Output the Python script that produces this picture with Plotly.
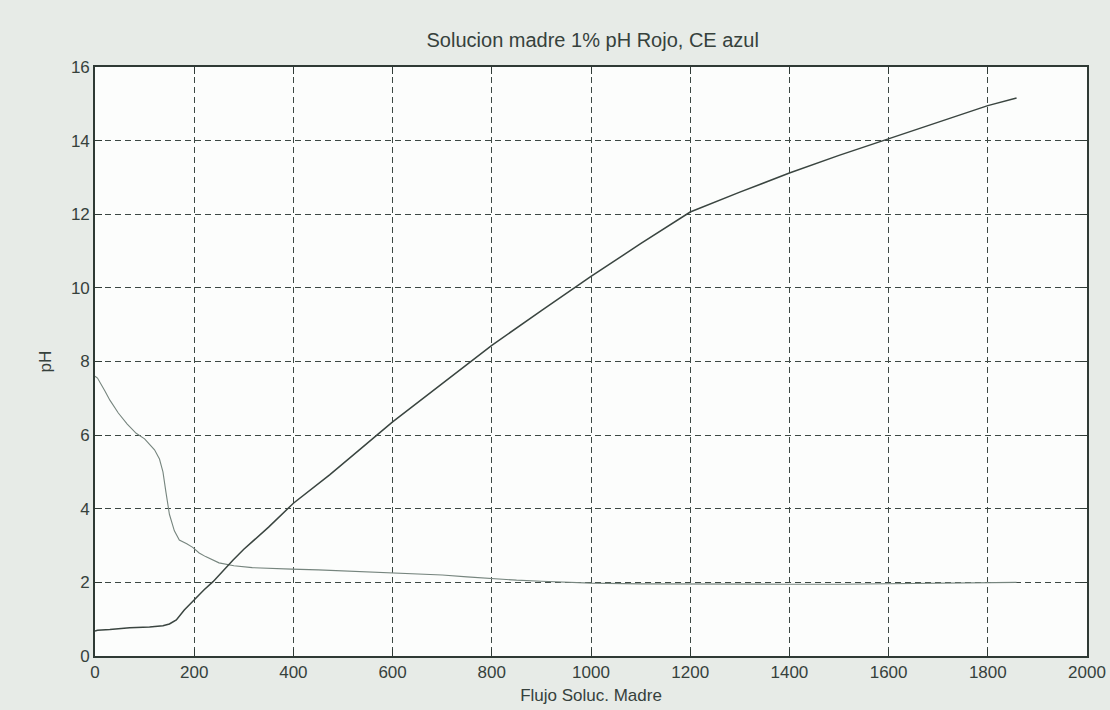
import plotly.graph_objects as go

# pH curve (dark)
ph_x = [0, 5, 30, 70, 110, 137, 150, 164, 180, 200, 220, 238, 260, 278, 300, 350, 400, 473, 533,
        600, 700, 765, 800, 900, 970, 1000, 1100, 1200, 1300, 1400, 1500, 1600, 1700, 1800, 1858]
ph_y = [0.68, 0.70, 0.72, 0.77, 0.79, 0.82, 0.87, 0.98, 1.25, 1.53, 1.80, 2.02, 2.35, 2.60, 2.90,
        3.50, 4.15, 4.92, 5.60, 6.36, 7.40, 8.06, 8.44, 9.38, 10.03, 10.31, 11.20, 12.06, 12.60,
        13.12, 13.60, 14.05, 14.50, 14.95, 15.16]

# CE curve (light)
ce_x = [0, 5, 20, 30, 47, 65, 83, 100, 110, 120, 130, 137, 143, 150, 160, 170, 185, 197, 210, 223,
        250, 280, 317, 360, 396, 450, 490, 530, 600, 650, 700, 750, 800, 850, 900, 950, 1000, 1100,
        1200, 1300, 1400, 1500, 1600, 1700, 1800, 1858]
ce_y = [7.60, 7.55, 7.20, 6.95, 6.60, 6.30, 6.05, 5.90, 5.75, 5.60, 5.35, 5.00, 4.45, 3.85, 3.40,
        3.15, 3.05, 2.95, 2.80, 2.70, 2.53, 2.45, 2.40, 2.37, 2.36, 2.34, 2.32, 2.30, 2.27, 2.24,
        2.20, 2.15, 2.10, 2.06, 2.03, 2.00, 1.98, 1.96, 1.95, 1.95, 1.95, 1.95, 1.96, 1.97, 1.98, 2.00]

x_ticks = [0, 200, 400, 600, 800, 1000, 1200, 1400, 1600, 1800, 2000]
y_ticks = [0, 2, 4, 6, 8, 10, 12, 14, 16]

title_text = "Solucion madre 1% pH Rojo, CE azul"
x_label = "Flujo Soluc. Madre"
y_label = "pH"

ink = "#2f3a35"
txt = "#36413c"
font_family = "Liberation Sans"

fig = go.Figure()
fig.add_trace(go.Scatter(x=ce_x, y=ce_y, mode="lines", line=dict(color="#76857e", width=1.1),
                         showlegend=False))
fig.add_trace(go.Scatter(x=ph_x, y=ph_y, mode="lines", line=dict(color="#3a4540", width=1.5),
                         showlegend=False))

axis_common = dict(showline=True, linecolor=ink, linewidth=1.6, mirror="ticks",
                   ticks="inside", ticklen=7, tickcolor=ink, tickwidth=1.2,
                   showgrid=True, gridcolor="#3c4843", gridwidth=1.3, griddash="6px,4px",
                   zeroline=False, automargin=False,
                   tickfont=dict(family=font_family, size=17, color=txt))

fig.update_layout(
    width=1110, height=710,
    margin=dict(l=95, r=23, t=67, b=54),
    paper_bgcolor="#e7ebe7", plot_bgcolor="#fcfdfc",
    title=dict(text=title_text, x=0.534, xanchor="center", y=0.944, yanchor="middle",
               font=dict(family=font_family, size=20, color=txt)),
    xaxis=dict(range=[0, 2000], tickvals=x_ticks, ticktext=[str(v) for v in x_ticks],
               title=dict(text=x_label, standoff=8,
                          font=dict(family=font_family, size=17, color=txt)),
               **axis_common),
    yaxis=dict(range=[0, 16], tickvals=y_ticks, ticktext=[str(v) for v in y_ticks],
               title=dict(text=y_label, standoff=15,
                          font=dict(family=font_family, size=17, color=txt)),
               **axis_common),
)

fig.write_html("out.html", config={"displayModeBar": False},
               post_script="document.body.style.margin='0';document.body.style.overflow='hidden';")
